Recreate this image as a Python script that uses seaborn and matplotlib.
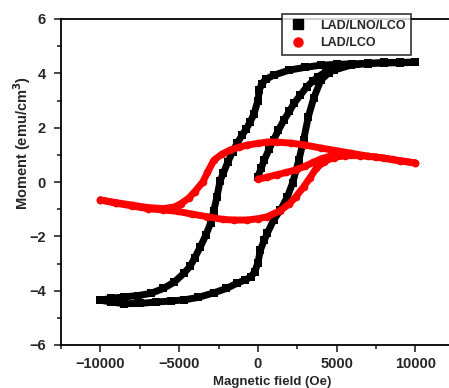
import matplotlib
matplotlib.use("Agg")
import matplotlib.pyplot as plt
from matplotlib.lines import Line2D
from matplotlib.ticker import MultipleLocator
import seaborn as sns
import pandas as pd

# LAD/LNO/LCO hysteresis loop (field in Oe, moment in emu/cm^3)
lno_desc_H = [10000, 9000, 8000, 7000, 6000, 5000, 4000, 3000, 2000, 1000, 500, 250, 100, 0,
              -250, -500, -750, -1000, -1300, -1600, -1900, -2200, -2400, -2600, -2800, -3000,
              -3300, -3650, -4000, -4300, -4700, -5300, -6000, -6800, -7600, -8500, -9300, -10000]
lno_desc_M = [4.40, 4.39, 4.38, 4.37, 4.35, 4.33, 4.30, 4.22, 4.12, 3.93, 3.78, 3.62, 3.40, 3.00,
              2.50, 2.20, 1.95, 1.72, 1.45, 1.12, 0.75, 0.32, 0.05, -0.55, -1.05, -1.50,
              -1.95, -2.38, -2.78, -3.10, -3.36, -3.68, -3.92, -4.10, -4.18, -4.23, -4.28, -4.35]

lno_asc_H = [-10000, -9300, -8500, -7500, -6500, -5500, -4700, -3800, -2800, -2000, -1300, -800,
             -450, -200, 0, 160, 400, 600, 1000, 1430, 1870, 2200, 2600, 2900, 3200, 3550, 4000,
             4500, 4830, 5900, 7000, 8000, 9000, 10000]
lno_asc_M = [-4.35, -4.42, -4.48, -4.47, -4.42, -4.38, -4.34, -4.25, -4.08, -3.92, -3.72, -3.60,
             -3.50, -3.30, -2.98, -2.50, -2.15, -1.88, -1.40, -1.03, -0.55, -0.04, 0.80, 1.55,
             2.40, 3.10, 3.75, 4.02, 4.12, 4.30, 4.36, 4.40, 4.40, 4.42]

lno_init_H = [0, 200, 400, 700, 1000, 1300, 1650, 2000, 2300, 2700, 3100, 3500, 3800, 4300, 5000]
lno_init_M = [0.20, 0.50, 0.80, 1.20, 1.55, 1.90, 2.28, 2.60, 2.90, 3.20, 3.50, 3.72, 3.87, 4.05, 4.20]

# LAD/LCO hysteresis loop
lco_desc_H = [10000, 9000, 8000, 7000, 5900, 5000, 4000, 3000, 2100, 1200, 600, 0, -670, -1200,
              -1750, -2300, -2800, -3200, -3500, -4000, -4400, -4900, -5300, -6000, -7000, -8000,
              -9000, -10000]
lco_desc_M = [0.70, 0.78, 0.88, 0.95, 1.06, 1.15, 1.25, 1.36, 1.43, 1.47, 1.47, 1.42, 1.36, 1.28,
              1.18, 1.02, 0.80, 0.35, 0.00, -0.35, -0.60, -0.80, -0.92, -0.98, -0.94, -0.85,
              -0.76, -0.66]

lco_asc_H = [-10000, -9000, -8000, -7000, -6000, -5100, -4200, -3200, -2200, -1500, -670, 0, 600,
             1430, 2000, 2400, 2900, 3300, 3700, 4200, 4800, 5500, 6500, 7500, 8500, 10000]
lco_asc_M = [-0.66, -0.78, -0.88, -0.98, -1.03, -1.08, -1.18, -1.28, -1.38, -1.40, -1.40, -1.35,
             -1.28, -1.05, -0.80, -0.55, -0.18, 0.15, 0.50, 0.75, 0.90, 0.97, 0.97, 0.92, 0.83, 0.70]

lco_init_H = [0, 600, 1200, 1800, 2400, 3000, 3500, 4000, 4600, 5200]
lco_init_M = [0.10, 0.18, 0.27, 0.35, 0.45, 0.58, 0.72, 0.85, 0.95, 1.00]

series_names = ["LAD/LNO/LCO", "LAD/LCO"]
series_colors = ["#000000", "#ff0000"]
series_markers = ["s", "o"]

sns.set_style("ticks")
plt.rcParams["font.family"] = ["Liberation Sans", "DejaVu Sans"]
plt.rcParams["font.weight"] = "bold"

fig = plt.figure(figsize=(4.49, 3.88), dpi=100)
ax = fig.add_axes([61 / 449, 43 / 388, 393.8 / 449, 326 / 388])

branches = [
    (0, lno_desc_H, lno_desc_M), (0, lno_asc_H, lno_asc_M), (0, lno_init_H, lno_init_M),
    (1, lco_desc_H, lco_desc_M), (1, lco_asc_H, lco_asc_M), (1, lco_init_H, lco_init_M),
]
for k, h, m in branches:
    df = pd.DataFrame({"H": h, "M": m})
    sns.lineplot(data=df, x="H", y="M", sort=False, ax=ax, color=series_colors[k],
                 linewidth=5.0, marker=series_markers[k], markersize=5.5,
                 markeredgewidth=0, legend=False, zorder=2 + k)

ax.set_xlim(-12500, 12500)
ax.set_ylim(-6, 6)
ax.xaxis.set_major_locator(MultipleLocator(5000))
ax.xaxis.set_minor_locator(MultipleLocator(2500))
ax.yaxis.set_major_locator(MultipleLocator(2))
ax.yaxis.set_minor_locator(MultipleLocator(1))
ax.tick_params(which="major", direction="out", length=5, width=1.2, labelsize=10.5)
ax.tick_params(axis="x", which="major", pad=4)
ax.tick_params(axis="y", which="major", pad=6)
ax.tick_params(which="minor", direction="out", length=3, width=1.2)
for lab in ax.get_xticklabels() + ax.get_yticklabels():
    lab.set_fontweight("bold")
for side in ["left", "bottom", "top", "right"]:
    ax.spines[side].set_linewidth(1.3)
    ax.spines[side].set_color("black")

ax.set_xlabel("Magnetic field (Oe)", fontsize=9.5, fontweight="bold", labelpad=1)
ax.xaxis.set_label_coords(0.537, -0.095)
ax.set_ylabel("Moment (emu/cm$^{3}$)", fontsize=10.5, fontweight="bold")
ax.yaxis.set_label_coords(-0.07, 0.62)

handles = [Line2D([], [], linestyle="none", marker=series_markers[k], color=series_colors[k],
                  markersize=6.5) for k in range(2)]
leg = ax.legend(handles, series_names, loc="upper left",
                bbox_to_anchor=(282 / 449, 1 - 14 / 388), bbox_transform=fig.transFigure,
                borderaxespad=0, frameon=True, fancybox=False,
                handlelength=1.6, handletextpad=1.0, borderpad=0.45, labelspacing=0.45,
                prop={"weight": "bold", "size": 9})
leg.get_frame().set_edgecolor("black")
leg.get_frame().set_linewidth(1.2)
leg.set_zorder(10)

fig.savefig("out.png", dpi=100)
